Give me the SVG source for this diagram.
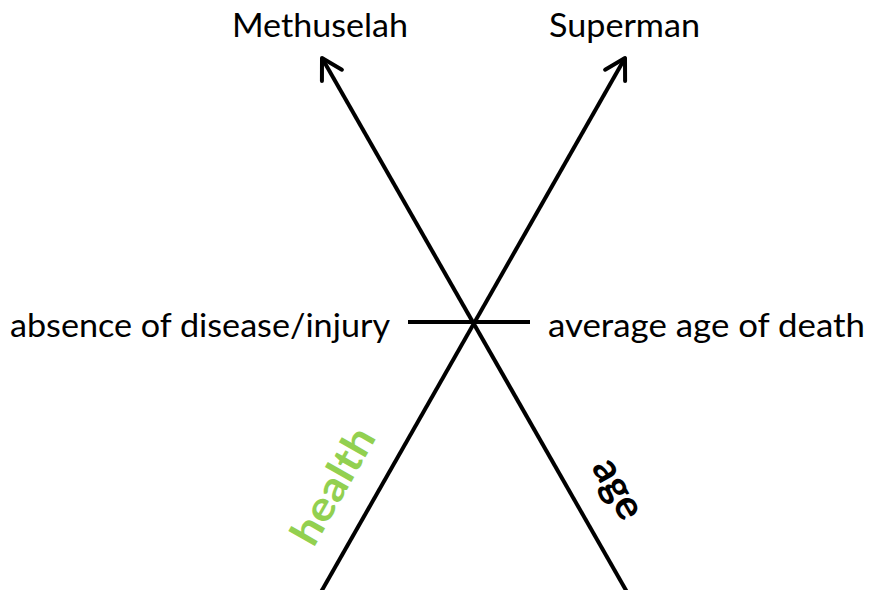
<svg xmlns="http://www.w3.org/2000/svg" width="871" height="590" viewBox="0 0 871 590">
<style>
.ln{stroke:#000;stroke-width:4;fill:none}
.lbl{font-family:Lato,"Open Sans","Liberation Sans",sans-serif;font-size:32px;fill:#000}
.axl{font-family:Lato,"Open Sans","Liberation Sans",sans-serif;font-size:41px;font-weight:bold}
</style>
<defs>
<marker id="arr" markerUnits="userSpaceOnUse" viewBox="-25 -15 30 30" refX="0" refY="0" markerWidth="30" markerHeight="30" orient="auto" overflow="visible">
<path d="M-20,-11.5 L0,0 L-20,11.5" fill="none" stroke="#000" stroke-width="4" stroke-linecap="round" stroke-linejoin="round"/>
</marker>
</defs>
<rect width="871" height="590" fill="#fff"/>
<g id="connectors">
<line class="ln" x1="321" y1="592" x2="625" y2="58" marker-end="url(#arr)"/>
<line class="ln" x1="627" y1="592" x2="322" y2="58" marker-end="url(#arr)"/>
<line class="ln" x1="408" y1="322" x2="530" y2="322"/>
</g>
<g id="methuselah"><text class="lbl" x="232" y="37" textLength="176" lengthAdjust="spacingAndGlyphs">Methuselah</text></g>
<g id="superman"><text class="lbl" x="549" y="37" textLength="151" lengthAdjust="spacingAndGlyphs">Superman</text></g>
<g id="absence"><text class="lbl" x="10" y="337" textLength="380" lengthAdjust="spacingAndGlyphs">absence  of disease/injury</text></g>
<g id="average"><text class="lbl" x="548" y="337" textLength="317" lengthAdjust="spacingAndGlyphs">average age of death</text></g>
<g id="health"><text class="axl" fill="#92D050" text-anchor="middle" transform="translate(333,486) rotate(-60.3)" x="0" y="14" textLength="128" lengthAdjust="spacingAndGlyphs">health</text></g>
<g id="age"><text class="axl" fill="#000" text-anchor="middle" transform="translate(612,492) rotate(60.3)" x="0" y="6" textLength="64" lengthAdjust="spacingAndGlyphs">age</text></g>
</svg>
